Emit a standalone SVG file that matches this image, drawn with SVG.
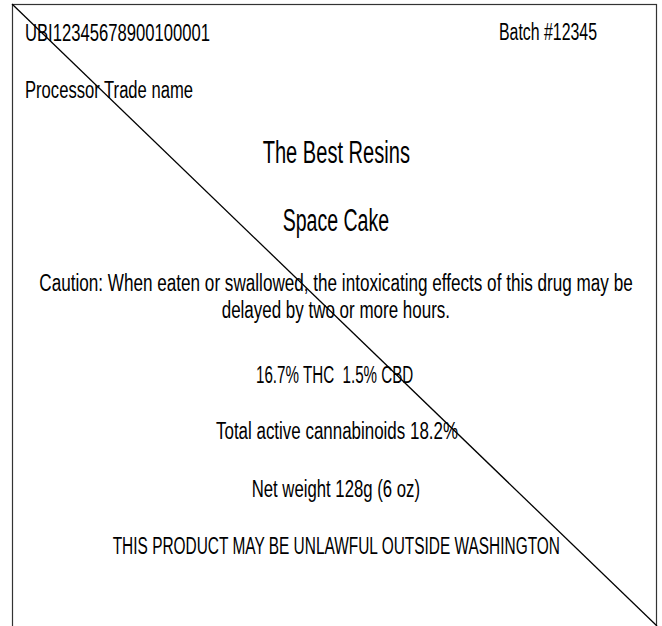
<svg xmlns="http://www.w3.org/2000/svg" width="662" height="626" viewBox="0 0 662 626">
<style>
.t{font-family:"Liberation Sans",Arial,sans-serif;font-size:23px;fill:#000;white-space:pre}
.big{font-size:31px}
</style>
<rect width="662" height="626" fill="#fff"/>
<rect id="border" x="12.5" y="4.5" width="644" height="640" fill="none" stroke="#333" stroke-width="1.2"/>
<g id="connectors">
<line x1="12" y1="4" x2="657" y2="626" stroke="#000" stroke-width="1.3"/>
</g>
<g id="ubi"><text class="t" x="25" y="40.5" textLength="185" lengthAdjust="spacingAndGlyphs">UBI12345678900100001</text></g>
<g id="batch"><text class="t" x="499" y="40" textLength="98" lengthAdjust="spacingAndGlyphs">Batch #12345</text></g>
<g id="processor"><text class="t" x="25" y="97.5" textLength="168" lengthAdjust="spacingAndGlyphs">Processor Trade name</text></g>
<g id="brand"><text class="t big" x="262.7" y="163.3" textLength="147.3" lengthAdjust="spacingAndGlyphs">The Best Resins</text></g>
<g id="product"><text class="t big" x="282.7" y="231" textLength="106.3" lengthAdjust="spacingAndGlyphs">Space Cake</text></g>
<g id="caution">
<text class="t" x="39.3" y="290.7" textLength="593.4" lengthAdjust="spacingAndGlyphs">Caution: When eaten or swallowed, the intoxicating effects of this drug may be</text>
<text class="t" x="221.7" y="317.8" textLength="228.3" lengthAdjust="spacingAndGlyphs">delayed by two or more hours.</text>
</g>
<g id="potency"><text class="t" x="256" y="382.7" textLength="157.3" lengthAdjust="spacingAndGlyphs">16.7% THC  1.5% CBD</text></g>
<g id="total"><text class="t" x="216" y="439.3" textLength="242" lengthAdjust="spacingAndGlyphs">Total active cannabinoids 18.2%</text></g>
<g id="weight"><text class="t" x="251.7" y="497.3" textLength="168.3" lengthAdjust="spacingAndGlyphs">Net weight 128g (6 oz)</text></g>
<g id="warning"><text class="t" x="112.7" y="554.3" textLength="447.3" lengthAdjust="spacingAndGlyphs">THIS PRODUCT MAY BE UNLAWFUL OUTSIDE WASHINGTON</text></g>
</svg>
